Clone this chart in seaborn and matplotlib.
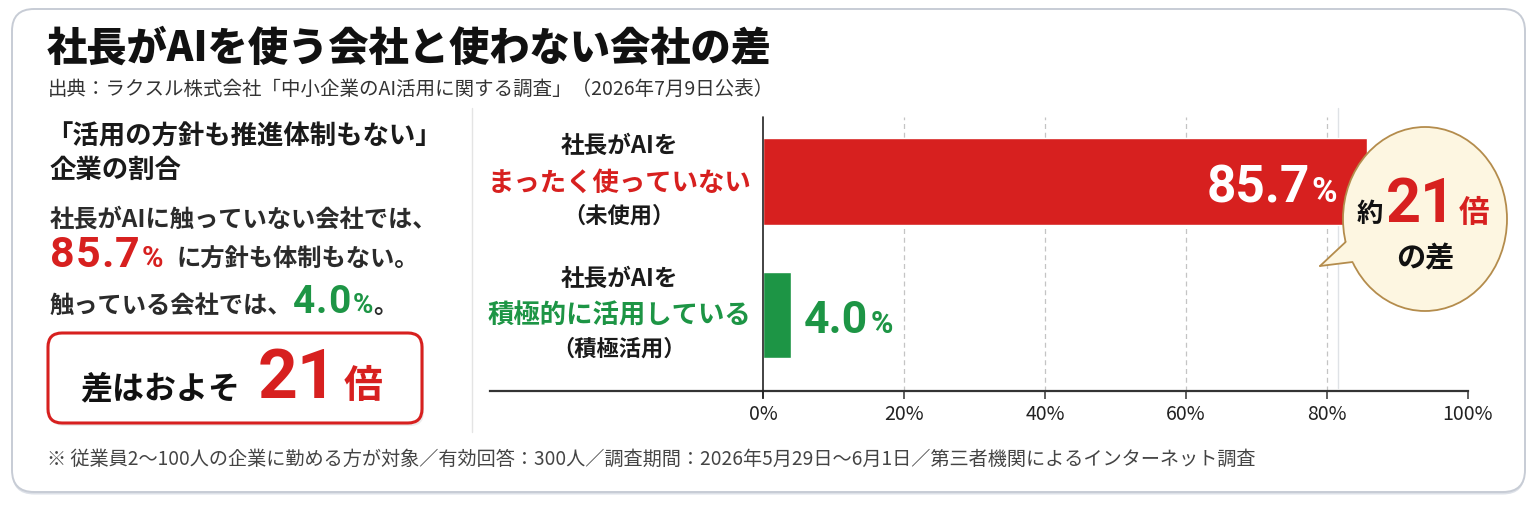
import matplotlib
matplotlib.use('Agg')
import pandas as pd
import seaborn as sns
import matplotlib.pyplot as plt
from matplotlib.patches import FancyBboxPatch, Ellipse, Polygon

# ---- data ----
groups = ['未使用', '積極活用']
shares = [85.7, 4.0]
lead_lines = ['社長がAIを', '社長がAIを']
key_lines = ['まったく使っていない', '積極的に活用している']
sub_lines = ['（未使用）', '（積極活用）']
x_ticks = [0, 20, 40, 60, 80, 100]
ratio = 21

title = '社長がAIを使う会社と使わない会社の差'
source = '出典：ラクスル株式会社「中小企業のAI活用に関する調査」（2026年7月9日公表）'
footnote = ('※ 従業員2〜100人の企業に勤める方が対象／有効回答：300人／'
            '調査期間：2026年5月29日〜6月1日／第三者機関によるインターネット調査')

RED = '#d7201f'
GREEN = '#1d9545'
bar_colors = [RED, GREEN]

W, H = 1536, 512
sns.set_theme(style='white')
JP = 'Noto Sans CJK JP'
plt.rcParams['font.family'] = [JP, 'DejaVu Sans']
NUM = ['Roboto', JP]

fig = plt.figure(figsize=(W / 100, H / 100), dpi=100)
fig.patch.set_facecolor('white')

bg = fig.add_axes([0, 0, 1, 1], zorder=0)
ax = fig.add_axes([490 / W, 1 - 391 / H, (1468 - 490) / W, (391 - 117) / H], zorder=1)
fg = fig.add_axes([0, 0, 1, 1], zorder=2)
for a in (bg, fg):
    a.set_xlim(0, W)
    a.set_ylim(H, 0)
    a.axis('off')
ax.patch.set_alpha(0)
fg.patch.set_alpha(0)

# card frame
bg.add_patch(FancyBboxPatch((12, 11.5), 1513, 483, boxstyle='round,pad=0,rounding_size=22',
                            fc='#dde1e8', ec='none', zorder=0))
bg.add_patch(FancyBboxPatch((12, 9), 1513, 483, boxstyle='round,pad=0,rounding_size=22',
                            fc='white', ec='#c7ccd5', lw=1.4, zorder=1))
bg.plot([472, 472], [108, 432], color='#e4e4e4', lw=1, zorder=2)
bg.plot([1338, 1338], [108, 388], color='#dfe2e6', lw=1, zorder=2)

# ---- bars ----
df = pd.DataFrame({'group': groups, 'share': shares})
sns.barplot(data=df, x='share', y='group', hue='group', palette=bar_colors, legend=False,
            orient='h', width=0.65, saturation=1, ax=ax, zorder=2)
ax.set_xlim(-38.72, 100)
ax.set_ylim(1.569, -0.483)
ax.set_xticks(x_ticks)
ax.set_xticklabels([f'{v}%' for v in x_ticks])
ax.set_yticks([])
ax.set_xlabel('')
ax.set_ylabel('')
for s in ['left', 'right', 'top']:
    ax.spines[s].set_visible(False)
ax.spines['bottom'].set_color('#333333')
ax.spines['bottom'].set_linewidth(1.6)
ax.tick_params(axis='x', bottom=True, length=6, width=1.1, color='#333333', pad=3,
               labelsize=14, labelcolor='#222222')
for v in x_ticks[1:-1]:
    ax.axvline(v, color='#c4c4c4', lw=0.9, ls=(0, (4, 3)), zorder=0)
ax.axvline(0, ymin=-0.025, ymax=1, color='#222222', lw=1.2, zorder=3, clip_on=False)

rend = fig.canvas.get_renderer()


def px(x, y):
    X, Y = ax.transData.transform((x, y))
    return X, H - Y


def run(x, y, parts, ha='left', zorder=3):
    # draw text pieces one after another on a common baseline (pixel coords)
    objs, cx = [], x
    for p in parts:
        if isinstance(p, (int, float)):
            cx += p
            continue
        s, kw = p
        kw = dict(kw)
        sp = kw.pop('sp', 0)
        chunks = list(s) if sp else [s]
        for j, c in enumerate(chunks):
            t = fg.text(cx, y, c, ha='left', va='baseline', zorder=zorder, **kw)
            cx += t.get_window_extent(rend).width + (sp if j < len(chunks) - 1 else 0)
            objs.append(t)
    shift = {'left': 0, 'center': (cx - x) / 2, 'right': cx - x}[ha]
    for t in objs:
        t.set_x(t.get_position()[0] - shift)


# category labels
for i in range(len(groups)):
    cx, cy = px(-20.4, i)
    fg.text(cx, cy - 29, lead_lines[i], ha='center', va='baseline', fontsize=17,
            fontweight='bold', color='#1a1a1a')
    fg.text(cx, cy + 9, key_lines[i], ha='center', va='baseline', fontsize=19,
            fontweight='bold', color=bar_colors[i])
    fg.text(cx, cy + 41, sub_lines[i], ha='center', va='baseline', fontsize=16,
            fontweight='bold', color='#1a1a1a')

# value labels
for i, v in enumerate(shares):
    x, y = px(v, i)
    if v > 20:
        run(x - 30, y + 21, [(f'{v:.1f}', dict(fontsize=37, fontweight='bold', color='white', family=NUM)),
                             2, ('%', dict(fontsize=25, fontweight='bold', color='white', family=NUM))],
            ha='right')
    else:
        run(x + 13, y + 18, [(f'{v:.1f}', dict(fontsize=32, fontweight='bold', color=bar_colors[i], family=NUM)),
                             2, ('%', dict(fontsize=22, fontweight='bold', color=bar_colors[i], family=NUM))])

# ---- header ----
fg.text(47, 61, title, fontsize=29, fontweight='heavy', color='#111111', va='baseline')
fg.text(48, 95, source, fontsize=14, color='#333333', va='baseline')

# ---- left panel ----
dark = '#2b2b2b'
fg.text(46, 145, '「活用の方針も推進体制もない」', fontsize=19, fontweight='bold', color='#1a1a1a', va='baseline')
fg.text(50, 178, '企業の割合', fontsize=19, fontweight='bold', color='#1a1a1a', va='baseline')
fg.text(50, 227, '社長がAIに触っていない会社では、', fontsize=17.5, fontweight='bold', color=dark, va='baseline')
run(50, 267, [(f'{shares[0]:.1f}', dict(fontsize=31, fontweight='bold', color=RED, family=NUM, sp=1)),
              2, ('%', dict(fontsize=21, fontweight='bold', color=RED, family=NUM)), 14,
              ('に方針も体制もない。', dict(fontsize=17.5, fontweight='bold', color=dark))])
run(50, 313, [('触っている会社では、', dict(fontsize=17.5, fontweight='bold', color=dark)),
              (f'{shares[1]:.1f}', dict(fontsize=28, fontweight='bold', color=GREEN, family=NUM, sp=1)),
              2, ('%', dict(fontsize=20, fontweight='bold', color=GREEN, family=NUM)),
              ('。', dict(fontsize=17.5, fontweight='bold', color=dark))])

bg.add_patch(FancyBboxPatch((50, 336), 374, 90, boxstyle='round,pad=0,rounding_size=14',
                            fc='#ececec', ec='none', zorder=3))
bg.add_patch(FancyBboxPatch((48, 333), 374, 90, boxstyle='round,pad=0,rounding_size=14',
                            fc='white', ec=RED, lw=2.2, zorder=4))
run(80, 398, [('差はおよそ', dict(fontsize=23, fontweight='bold', color='#111111')), 18,
              (f'{ratio}', dict(fontsize=50, fontweight='bold', color=RED, family=NUM)), 6,
              ('倍', dict(fontsize=28, fontweight='bold', color=RED))])

# ---- speech bubble ----
bx, by, bw, bh = 1425, 219, 164, 184
fg.add_patch(Ellipse((bx, by), bw, bh, fc='#fdf6e1', ec='#b48c4c', lw=1.3, zorder=4))
tip, a_pt, b_pt = (1320, 266), (1345.6, 242), (1352.5, 262)
fg.add_patch(Polygon([tip, a_pt, (1356, 240), (1362, 265), b_pt], closed=True,
                     fc='#fdf6e1', ec='none', zorder=5))
fg.plot([tip[0], a_pt[0]], [tip[1], a_pt[1]], color='#b48c4c', lw=1.3, zorder=6)
fg.plot([tip[0], b_pt[0]], [tip[1], b_pt[1]], color='#b48c4c', lw=1.3, zorder=6)
run(1423, 222, [('約', dict(fontsize=19, fontweight='bold', color='#111111')), 3,
                (f'{ratio}', dict(fontsize=44, fontweight='bold', color=RED, family=NUM)), 2,
                ('倍', dict(fontsize=22, fontweight='bold', color=RED))], ha='center', zorder=7)
fg.text(1425, 267, 'の差', fontsize=21, fontweight='bold', color='#111111', ha='center',
        va='baseline', zorder=7)

# ---- footnote ----
fg.text(47, 465, footnote, fontsize=13.8, color='#444444', va='baseline')

fig.savefig('out.png', dpi=100)
